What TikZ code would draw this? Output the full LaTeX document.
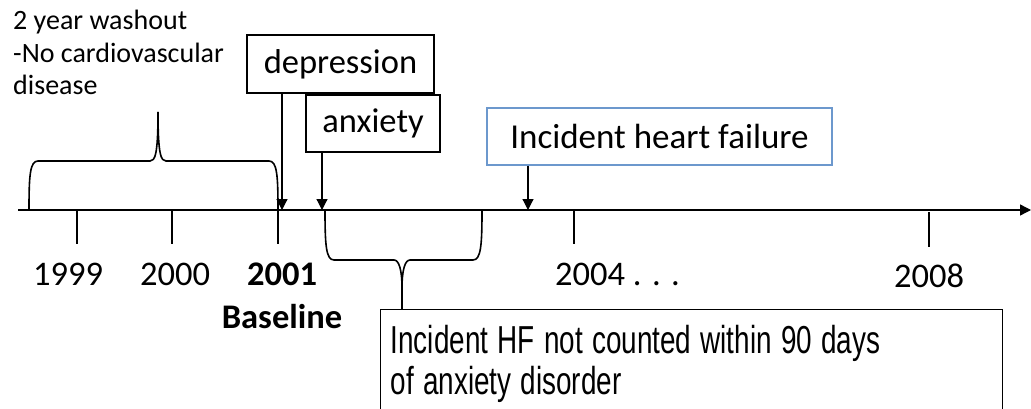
\documentclass[tikz,border=0pt]{standalone}
\usepackage{fontspec}
\usepackage{graphicx}
\setmainfont{Carlito}
\newfontfamily\arialfont{Liberation Sans}
\usetikzlibrary{arrows.meta}
\definecolor{hfblue}{RGB}{108,152,205}
\newcommand{\narrowline}[1]{\scalebox{0.715}[1]{#1}}
\begin{document}
\begin{tikzpicture}[x=1pt,y=-1pt,
  axisline/.style={line width=1.4pt},
  tickline/.style={line width=1.3pt},
  bracepath/.style={line width=1.6pt},
  box/.style={draw, line width=1.3pt, inner sep=0pt, font=\fontsize{34.5}{40}\selectfont},
  lbl/.style={font=\fontsize{34.5}{40}\selectfont, inner sep=0pt, anchor=base},
  arr/.style={-{Triangle[width=11pt,length=11pt]}, line width=1.2pt}]
\useasboundingbox (0,0) rectangle (1031,409);

% axis
\coordinate (axl) at (18,210);
\coordinate (axr) at (1031,210);
\draw[axisline,-{Triangle[width=11pt,length=11pt]}] (axl) -- (axr);

% ticks
\coordinate (t99) at (77,210);
\coordinate (t00) at (172,210);
\coordinate (t01) at (278,210);
\coordinate (t04) at (574,210);
\coordinate (t08) at (929,212);
\foreach \t in {t99,t00,t01,t04} \draw[tickline] (\t) -- ++(0,34);
\draw[tickline] (t08) -- ++(0,35);

% year labels
\node[lbl] (y99) at (68,285) {1999};
\node[lbl] (y00) at (175,285) {2000};
\node[lbl] (y01) at (282,285) {\bfseries 2001};
\node[lbl] (base) at (282,328) {\bfseries Baseline};
\node[lbl, anchor=base west] (y04) at (555,285) {2004 . . .};
\node[lbl] (y08) at (929,287) {2008};

% washout text
\node[anchor=north west, align=left, inner sep=0pt, font=\fontsize{28}{32.5}\selectfont] (wash) at (13,10)
  {2 year washout\\-No cardiovascular\\disease};

% top brace
\coordinate (wl) at (29,210);
\coordinate (wr) at (278,210);
\coordinate (wtip) at (158,112);
\draw[bracepath] (wl) .. controls (29,175) and (30,161) .. (38,161) -- (150,161)
  .. controls (155,161) and (158,155) .. (wtip);
\draw[bracepath] (wr) .. controls (278,175) and (277,161) .. (269,161) -- (166,161)
  .. controls (161,161) and (158,155) .. (wtip);

% boxes
\node[box, minimum width=187pt, minimum height=58pt] (dep) at (340.5,64) {depression};
\node[box, minimum width=134pt, minimum height=57pt] (anx) at (373,123.5) {anxiety};
\node[box, draw=hfblue, minimum width=345pt, minimum height=57pt, font=\fontsize{35}{40}\selectfont] (hf) at (659.5,136.5) {Incident heart failure\hspace{8pt}};

% arrows to axis
\coordinate (depa) at (282,210);
\coordinate (anxa) at (322,210);
\coordinate (hfa) at (528,210);
\draw[arr] (dep.south -| depa) -- (depa);
\draw[arr] (anx.south -| anxa) -- (anxa);
\draw[arr] (hf.south -| hfa) -- (hfa);

% bottom box
\node[draw, line width=1.3pt, anchor=north west, align=left, text width=602pt,
  inner xsep=10pt, inner ysep=16pt, font=\arialfont\fontsize{39}{41}\selectfont] (excl) at (380,309)
  {\narrowline{Incident HF not counted within 90 days}\\\narrowline{of anxiety disorder}};

% bottom brace
\coordinate (bl) at (325,210);
\coordinate (br) at (482,210);
\coordinate (btip) at (402,288);
\draw[bracepath] (bl) .. controls (325,245) and (326,260) .. (334,260) -- (394,260)
  .. controls (399,260) and (402,270) .. (btip);
\draw[bracepath] (br) .. controls (482,245) and (481,260) .. (473,260) -- (410,260)
  .. controls (405,260) and (402,270) .. (btip);
\draw[bracepath] (btip) -- (excl.north -| btip);
\end{tikzpicture}
\end{document}
